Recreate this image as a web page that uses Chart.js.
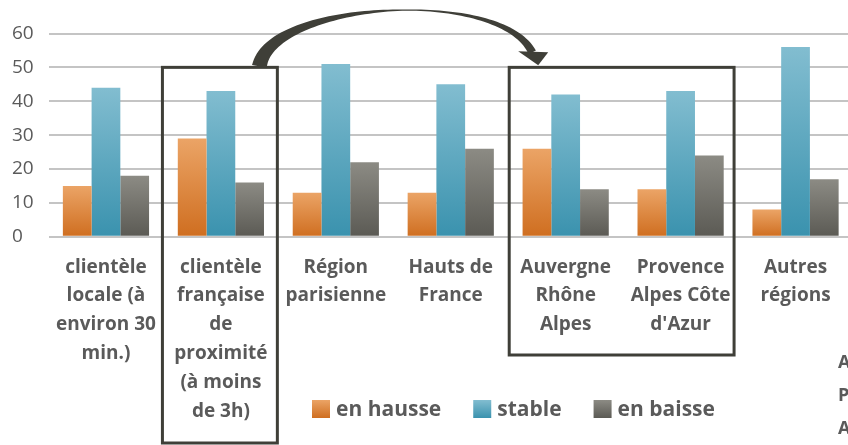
<!DOCTYPE html>
<html>
<head>
<meta charset="utf-8">
<script src="https://cdn.jsdelivr.net/npm/chart.js@4"></script>
<style>
  body { margin: 0; overflow: hidden; background: #fff; }
  #wrap { width: 870px; height: 445px; }
</style>
</head>
<body>
<div id="wrap"><canvas id="chart" width="870" height="445"></canvas></div>
<script>
// Data
const categories = [
    ['clientèle', 'locale (à', 'environ 30', 'min.)'],
    ['clientèle', 'française', 'de', 'proximité', '(à moins', 'de 3h)'],
    ['Région', 'parisienne'],
    ['Hauts de', 'France'],
    ['Auvergne', 'Rhône', 'Alpes'],
    ['Provence', 'Alpes Côte', "d'Azur"],
    ['Autres', 'régions']
];
const seriesNames = ['en hausse', 'stable', 'en baisse'];
const hausse = [15, 29, 13, 13, 26, 14, 8];
const stable = [44, 43, 51, 45, 42, 43, 56];
const baisse = [18, 16, 22, 26, 14, 24, 17];
const yTicks = [0, 10, 20, 30, 40, 50, 60];
const cutText = ['A', 'P', 'A']; // letters cut off at the right edge

const textGrey = '#5a5a5a';
const lineDark = '#3f3f38';
const palette = [
    ['#eba466', '#cf6e20'],
    ['#82bdd0', '#3a92ae'],
    ['#8c8b84', '#5b5a54']
];

// vertical gradient per bar, lighter on top
function barGradient(top, bottom) {
    return function(ctx) {
        const chart = ctx.chart;
        if (!chart.chartArea || ctx.type !== 'data') return bottom;
        const y = chart.scales.y;
        const g = chart.ctx.createLinearGradient(0, y.getPixelForValue(ctx.raw), 0, y.getPixelForValue(0));
        g.addColorStop(0, top);
        g.addColorStop(1, bottom);
        return g;
    };
}

// legend under the chart
const legendPlugin = {
    id: 'bottomLegend',
    afterDraw(chart) {
        const c = chart.ctx;
        c.save();
        c.font = 'bold 21px "Open Sans"';
        c.textBaseline = 'middle';
        let x = 312;
        const yMid = 409;
        chart.data.datasets.forEach((ds, i) => {
            const g = c.createLinearGradient(0, yMid - 9, 0, yMid + 9);
            g.addColorStop(0, palette[i][0]);
            g.addColorStop(1, palette[i][1]);
            c.fillStyle = g;
            c.fillRect(x, yMid - 9, 18, 18);
            c.fillStyle = textGrey;
            c.fillText(ds.label, x + 24, yMid + 1);
            x += 24 + c.measureText(ds.label).width + 32;
        });
        // cropped text on the right border
        c.font = 'bold 18px "Open Sans"';
        cutText.forEach((t, i) => c.fillText(t, 838, 363 + i * 33));
        c.restore();
    }
};

// highlight boxes and curved arrow
const notePlugin = {
    id: 'notes',
    afterDraw(chart) {
        const c = chart.ctx;
        const xs = chart.scales.x, ys = chart.scales.y;
        const cw = (xs.right - xs.left) / categories.length;
        const top = ys.getPixelForValue(50);
        const b1 = { l: xs.getPixelForValue(1) - cw / 2 - 1, r: xs.getPixelForValue(1) + cw / 2 - 1 };
        const b2 = { l: xs.getPixelForValue(4) - cw / 2 + 1, r: xs.getPixelForValue(5) + cw / 2 - 4 };
        c.save();
        c.strokeStyle = lineDark;
        c.lineWidth = 3;
        c.strokeRect(b1.l, top, b1.r - b1.l, 443 - top);
        c.strokeRect(b2.l, top, b2.r - b2.l, 355 - top);

        // tapered curve: thick at the start, thin at the top, a bit thicker near the head
        const p0 = [b1.l + 97, top - 1], p1 = [b1.l + 108, top - 66];
        const p3 = [b2.l + 23, top - 15], p2 = [b2.l - 9, top - 80];
        const bez = (t, k) => {
            const u = 1 - t;
            return u * u * u * p0[k] + 3 * u * u * t * p1[k] + 3 * u * t * t * p2[k] + t * t * t * p3[k];
        };
        const n = 80, left = [], right = [];
        for (let i = 0; i <= n; i++) {
            const t = i / n;
            const x = bez(t, 0), y = bez(t, 1);
            const t2 = Math.min(1, t + 0.001), t1 = Math.max(0, t - 0.001);
            let dx = bez(t2, 0) - bez(t1, 0), dy = bez(t2, 1) - bez(t1, 1);
            const len = Math.hypot(dx, dy);
            dx /= len; dy /= len;
            let w;
            if (t < 0.55) w = 1.2 + 13.8 * Math.pow((0.55 - t) / 0.55, 1.2);
            else w = 1.2 + 7 * Math.pow((t - 0.55) / 0.45, 1.4);
            left.push([x - dy * w / 2, y + dx * w / 2]);
            right.push([x + dy * w / 2, y - dx * w / 2]);
        }
        c.fillStyle = lineDark;
        c.beginPath();
        left.forEach((p, i) => i ? c.lineTo(p[0], p[1]) : c.moveTo(p[0], p[1]));
        right.reverse().forEach(p => c.lineTo(p[0], p[1]));
        c.closePath();
        c.fill();
        // arrow head
        c.beginPath();
        c.moveTo(b2.l + 29, top - 2);
        c.lineTo(b2.l + 9, top - 16);
        c.lineTo(b2.l + 39, top - 15);
        c.closePath();
        c.fill();
        c.restore();
    }
};

const datasets = [hausse, stable, baisse].map((vals, i) => ({
    label: seriesNames[i],
    data: vals,
    backgroundColor: barGradient(palette[i][0], palette[i][1]),
    borderWidth: 0,
    categoryPercentage: 0.75,
    barPercentage: 1.0
}));

function draw() {
    new Chart(document.getElementById('chart'), {
        type: 'bar',
        data: { labels: categories, datasets: datasets },
        options: {
            responsive: false,
            animation: false,
            layout: { padding: { top: 33.5, left: 12, right: 17, bottom: 0 } },
            plugins: { legend: { display: false }, tooltip: { enabled: false } },
            scales: {
                x: {
                    grid: { display: false, drawTicks: false },
                    border: { display: false },
                    ticks: {
                        color: textGrey,
                        font: { family: '"Open Sans"', size: 19, weight: 'bold', lineHeight: '28.8px' },
                        padding: 16,
                        maxRotation: 0,
                        autoSkip: false
                    },
                    afterFit(scale) { scale.height = 208.3; }
                },
                y: {
                    min: 0,
                    max: 60,
                    grid: { color: '#c4c4c4', lineWidth: 2, drawTicks: false },
                    border: { display: false },
                    ticks: {
                        color: textGrey,
                        font: { family: '"Open Sans"', size: 19 },
                        crossAlign: 'far',
                        padding: 0
                    },
                    afterBuildTicks(scale) { scale.ticks = yTicks.map(v => ({ value: v })); },
                    afterFit(scale) { scale.width = 36.5; }
                }
            }
        },
        plugins: [legendPlugin, notePlugin]
    });
}

Promise.all([
    document.fonts.load('bold 19px "Open Sans"'),
    document.fonts.load('19px "Open Sans"')
]).then(draw, draw);
</script>
</body>
</html>
